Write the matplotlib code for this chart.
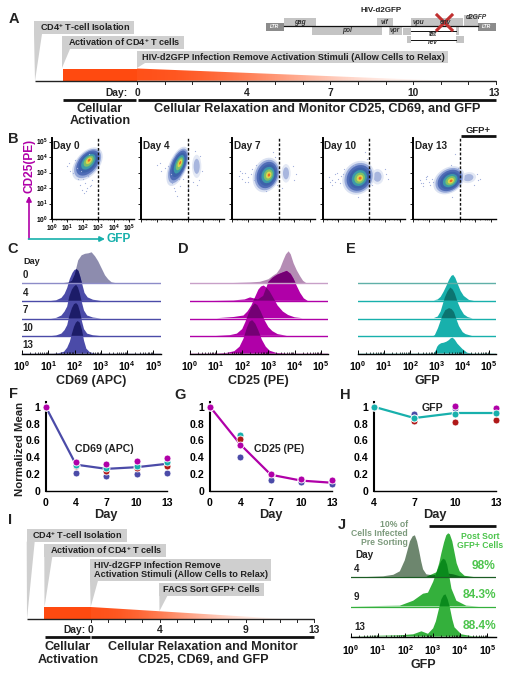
import numpy as np
import matplotlib
matplotlib.use("Agg")
import matplotlib.pyplot as plt
from matplotlib.colors import LinearSegmentedColormap
from matplotlib.patches import Ellipse, Polygon, Rectangle

plt.rcParams["font.family"] = ["Liberation Sans", "DejaVu Sans"]
plt.rcParams["font.weight"] = "bold"
plt.rcParams["axes.labelweight"] = "bold"
plt.rcParams["mathtext.fontset"] = "custom"
plt.rcParams["mathtext.bf"] = "Liberation Sans:bold"
plt.rcParams["mathtext.rm"] = "Liberation Sans:bold"
plt.rcParams["mathtext.default"] = "bf"
plt.rcParams["text.color"] = "#222222"
plt.rcParams["axes.labelcolor"] = "#222222"

W, H = 512, 674

# line plots (F, G, H)
days = ["0", "4", "7", "10", "13"]
days_h = ["4", "7", "10", "13"]
f_line = [1, 0.31, 0.26, 0.28, 0.32]
f_blue = [1, 0.215, 0.18, 0.195, 0.21]
f_red = [1, 0.30, 0.24, 0.265, 0.30]
f_teal = [1, 0.31, 0.27, 0.30, 0.345]
f_mag = [1, 0.345, 0.32, 0.355, 0.395]
g_line = [1, 0.55, 0.19, 0.12, 0.095]
g_blue = [1, 0.40, 0.125, 0.10, 0.085]
g_red = [1, 0.62, 0.19, 0.13, 0.10]
g_teal = [1, 0.665, 0.19, 0.13, 0.10]
g_mag = [1, 0.55, 0.20, 0.145, 0.125]
h_line = [1, 0.865, 0.925, 0.925]
h_blue = [1, 0.91, 0.98, 0.94]
h_red = [1, 0.825, 0.815, 0.845]
h_teal = [1, 0.865, 0.915, 0.925]
h_mag = [1, 0.865, 1.01, 0.98]

# histograms, x = log10 intensity, y = height
c0_x = [1.5, 1.78, 1.9, 2.01, 2.14, 2.27, 2.4, 2.53, 2.65, 2.78, 2.9, 3.03, 3.16, 3.28, 3.41, 3.6]
c0_y = [0, 1, 2.5, 9, 23, 28, 29.5, 30, 31, 27, 22, 15, 8, 4, 1, 0]
c4_x = [1.1, 1.3, 1.5, 1.62, 1.72, 1.82, 1.92, 2.0, 2.08, 2.15, 2.22, 2.3, 2.38, 2.5, 2.7, 3.0]
c4_y = [0, 0.6, 3, 7, 13, 22, 28, 31, 31.7, 30, 24, 16, 8, 3.5, 1.2, 0]
c7_x = [1.1, 1.3, 1.5, 1.62, 1.72, 1.8, 1.9, 1.98, 2.06, 2.13, 2.2, 2.28, 2.36, 2.48, 2.7, 3.0]
c7_y = [0, 0.6, 3, 7, 12, 22, 29, 32, 33.7, 31, 25, 16, 8, 3, 1, 0]
c10_x = [1.1, 1.3, 1.5, 1.62, 1.72, 1.8, 1.9, 1.98, 2.06, 2.13, 2.2, 2.28, 2.36, 2.48, 2.7, 3.0]
c10_y = [0, 0.6, 2.5, 6, 11, 20, 28, 32, 33, 31, 25, 15, 7, 2.5, 0.8, 0]
c13_x = [1.2, 1.4, 1.6, 1.72, 1.82, 1.9, 1.98, 2.05, 2.12, 2.2, 2.28, 2.36, 2.45, 2.58, 2.8]
c13_y = [0, 0.5, 2, 6, 12, 20, 27, 31, 32.7, 31, 24, 13, 5, 1.5, 0]

d0_x = [1.0, 1.67, 2.3, 2.68, 3.0, 3.2, 3.32, 3.45, 3.57, 3.67, 3.77, 3.85, 3.96, 4.08, 4.21, 4.32, 4.45]
d0_y = [0, 0.3, 0.8, 1.5, 4, 8, 10, 15, 23, 29, 32, 29, 20, 13, 7, 2.5, 0]
d4_x = [0.9, 1.67, 2.1, 2.3, 2.6, 2.8, 2.9, 3.0, 3.15, 3.32, 3.5, 3.7, 3.85, 3.96, 4.08, 4.21, 4.35, 4.5]
d4_y = [0.2, 0.5, 1.5, 3.5, 1.5, 5, 12, 19, 23, 26, 28, 30, 27, 22, 15, 8, 2.5, 0]
d7_x = [1.03, 1.67, 2.05, 2.2, 2.35, 2.5, 2.62, 2.72, 2.82, 2.92, 3.05, 3.2, 3.35, 3.55, 3.75, 4.0, 4.3]
d7_y = [0.3, 1.5, 3, 7, 13, 22, 29, 32, 33, 31, 27, 20, 13, 7, 3.5, 1.2, 0.3]
d10_x = [1.0, 1.54, 1.8, 2.0, 2.12, 2.25, 2.38, 2.48, 2.58, 2.7, 2.85, 3.0, 3.15, 3.35, 3.7]
d10_y = [0.2, 1, 2.5, 7, 14, 23, 30, 32.7, 31, 25, 16, 9, 5, 2, 0.3]
d13_x = [1.0, 1.41, 1.7, 1.9, 2.05, 2.18, 2.28, 2.38, 2.5, 2.62, 2.75, 2.9, 3.05, 3.3, 3.7]
d13_y = [0.2, 0.8, 2.5, 7, 15, 26, 32, 33.7, 30, 23, 14, 7, 3, 0.8, 0]

e4_x = [2.9, 3.05, 3.16, 3.27, 3.38, 3.48, 3.57, 3.64, 3.72, 3.81, 3.92, 4.04, 4.24, 4.43]
e4_y = [0.4, 1.5, 4, 9, 15, 21, 25, 26, 23, 17, 10, 5, 1, 0]
e7_x = [2.9, 3.05, 3.16, 3.24, 3.32, 3.42, 3.53, 3.62, 3.70, 3.8, 3.91, 4.05, 4.19, 4.38]
e7_y = [0.4, 2, 7, 14, 21, 27, 31, 29, 25, 17, 10, 4, 1.5, 0]
e10_x = [2.88, 2.94, 3.06, 3.14, 3.22, 3.34, 3.48, 3.58, 3.67, 3.76, 3.86, 4.0, 4.11, 4.37]
e10_y = [0, 1, 8, 14, 20, 26, 28, 27, 24, 17, 10, 4, 2, 0]
e13_x = [2.9, 2.97, 3.03, 3.09, 3.18, 3.28, 3.38, 3.47, 3.55, 3.62, 3.7, 3.8, 3.98, 4.17, 4.37]
e13_y = [0.3, 3, 7, 9, 10.5, 11, 12, 13.5, 15.5, 16, 14, 10, 5, 1, 0]

j_gray_x = [0.6, 1.19, 1.56, 1.8, 1.98, 2.08, 2.17, 2.27, 2.35, 2.43, 2.51, 2.58, 2.65, 2.77, 3.0, 3.25, 3.5, 3.75, 4.0, 4.5]
j_gray_y = [0.5, 1, 2.5, 6, 17, 27, 36, 41, 42, 36, 26, 16, 8, 3, 2, 3, 4, 3, 1, 0]
j4_x = [2.77, 2.89, 3.14, 3.24, 3.32, 3.42, 3.5, 3.57, 3.63, 3.72, 3.8, 3.88, 3.99, 4.17, 4.5]
j4_y = [0.3, 2, 5, 14, 24, 35, 42, 44, 43, 36, 25, 14, 6, 1.5, 0.3]
j9_x = [0, 1.8, 2.29, 2.65, 2.83, 3.02, 3.12, 3.2, 3.3, 3.38, 3.46, 3.53, 3.62, 3.69, 3.87, 4.23, 4.7]
j9_y = [0.3, 1, 6, 13, 14, 25, 33, 38, 45, 48, 47, 42, 29, 18, 6, 1, 0.3]
j13_x = [0, 1.8, 2.29, 2.59, 2.83, 3.02, 3.12, 3.2, 3.32, 3.4, 3.47, 3.55, 3.63, 3.72, 3.8, 4.05, 4.47, 5.3]
j13_y = [1, 2, 3, 6, 3.5, 9, 16, 25, 38, 42, 43, 38, 30, 18, 10, 3, 1, 0.5]

# flow plots: centre x, centre y, length, width, angle
b_titles = ["Day 0", "Day 4", "Day 7", "Day 10", "Day 13"]
b_blobs = [(2.3, 3.55, 2.5, 1.5, 50), (2.35, 3.4, 2.7, 1.15, 68), (2.2, 2.84, 2.3, 1.7, 70),
           (2.3, 2.66, 2.3, 1.95, 55), (2.3, 2.5, 2.2, 1.6, 35)]
b_cores = [(2.42, 3.82), (2.52, 3.65), (2.38, 2.84), (2.42, 2.63), (2.45, 2.46)]
b_gfp = [None, (3.57, 3.4, 1.5, 0.6, 90), (3.46, 2.95, 1.2, 0.6, 90),
         (3.53, 2.73, 1.0, 0.8, 90), (3.55, 2.67, 1.0, 0.7, 10)]
b_xs = [[1.0, 1.2, 1.5, 1.8, 2.0, 2.2, 2.5, 2.1, 1.9, 2.6, 1.4, 2.3, 1.7, 2.4, 2.15, 2.35, 1.95, 2.55, 1.1, 1.6],
        [1.0, 1.3, 1.7, 2.0, 2.2, 2.5, 2.4, 1.9, 3.0, 3.3, 3.8, 3.6, 2.7, 1.5, 2.3, 2.1, 3.45, 3.7, 3.9, 1.2],
        [0.4, 0.6, 0.8, 1.0, 1.2, 1.4, 0.6, 1.0, 1.3, 2.2, 2.6, 3.9, 4.0, 3.2, 0.8, 0.5, 2.75, 2.9, 1.5, 4.1],
        [0.4, 0.6, 0.8, 1.0, 1.2, 0.6, 0.9, 1.1, 2.3, 2.7, 4.0, 4.2, 3.2, 1.4, 0.5, 0.8, 2.85, 1.3, 4.1, 2.0],
        [0.4, 0.6, 0.8, 1.0, 1.2, 0.6, 0.9, 1.1, 2.7, 3.0, 4.1, 4.3, 3.9, 2.5, 0.5, 0.8, 2.85, 1.3, 4.2, 2.4]]
b_ys = [[3.4, 3.1, 3.8, 2.2, 2.6, 1.8, 2.1, 1.7, 3.1, 2.5, 3.0, 2.0, 2.6, 4.2, 2.3, 2.8, 1.9, 2.2, 3.6, 3.3],
        [3.5, 3.1, 3.4, 2.3, 1.8, 2.1, 2.6, 2.9, 2.0, 2.4, 4.1, 2.2, 2.6, 3.3, 1.5, 2.0, 4.4, 2.5, 3.1, 3.6],
        [2.8, 2.6, 3.0, 2.7, 2.9, 2.5, 3.0, 2.4, 3.2, 1.8, 4.3, 3.4, 2.5, 2.0, 2.4, 3.1, 4.0, 2.2, 3.5, 2.9],
        [2.7, 2.5, 2.9, 2.6, 2.8, 2.2, 3.0, 2.3, 1.4, 4.3, 3.2, 2.6, 2.2, 3.2, 2.4, 2.4, 3.9, 2.9, 2.9, 3.5],
        [2.5, 2.3, 2.7, 2.4, 2.6, 2.1, 2.8, 2.2, 4.2, 3.9, 2.9, 2.6, 2.2, 1.4, 2.3, 2.6, 3.3, 2.4, 2.5, 3.5]]
density_fracs = [1.0, 0.88, 0.76, 0.62, 0.47, 0.33, 0.2, 0.09]
density_colors = ["#dbe2f2", "#94a7d8", "#4f6cb6", "#3c62aa", "#3c9aa8", "#7cc06a", "#e0d44c", "#ea6a28"]

BLUE = "#4b4ba8"
MAG = "#b000a8"
TEAL = "#18b0ac"
RED = "#b01818"
ORANGE = "#ff4a10"
GREY = "#cfcfcf"

fig = plt.figure(figsize=(W / 100, H / 100), dpi=100)

# overlay in pixels for the schematics and loose labels
ov = fig.add_axes([0, 0, 1, 1], zorder=5)
ov.set_xlim(0, W)
ov.set_ylim(H, 0)
ov.axis("off")


def px_axes(left, top, right, bottom):
    ax = fig.add_axes([left / W, 1 - bottom / H, (right - left) / W, (bottom - top) / H])
    ax.patch.set_alpha(0)
    return ax


def txt(x, y, s, size=7, ha="center", color="#222222", **kw):
    ov.text(x, y, s, fontsize=size, ha=ha, va="center", color=color, **kw)


def callout(box, tip_x, tip_y):
    x0, y0, x1, y1 = box
    ov.add_patch(Rectangle((x0, y0), x1 - x0, y1 - y0, fc=GREY, ec="none"))
    ov.add_patch(Polygon([(x0, y1), (x0 + 8, y1), (tip_x, tip_y)], fc=GREY, ec="none"))


def timeline(x0, x_start, x_zero, x_end, x_fade, y, y_top, n_ticks):
    grad = LinearSegmentedColormap.from_list("o", [ORANGE, "#ffffff"])
    im = ov.imshow([[0, 1]], extent=(x_zero, x_fade, y, y_top), cmap=grad, aspect="auto",
                   interpolation="bicubic", zorder=2)
    tri = Polygon([(x_zero, y_top), (x_fade, y), (x_zero, y)], transform=ov.transData, fc="none", ec="none")
    ov.add_patch(tri)
    im.set_clip_path(tri)
    ov.set_xlim(0, W)
    ov.set_ylim(H, 0)
    ov.add_patch(Rectangle((x_start, y_top), x_zero - x_start, y - y_top, fc=ORANGE, ec="none", zorder=2))
    ov.plot([x0, x_end], [y, y], color="#222222", lw=1.0, zorder=3, solid_capstyle="butt")
    for t in np.linspace(x_zero, x_end, n_ticks + 1):
        ov.plot([t, t], [y, y + 3], color="#222222", lw=0.7, zorder=3)


def thick(x0, x1, y, lw=2.0):
    ov.plot([x0, x1], [y, y], color="#111111", lw=lw, solid_capstyle="butt")


# A
callout((34, 21, 134, 34), 35, 81)
callout((62, 36, 184, 49), 62, 68)
callout((137, 51, 448, 63), 137, 68)
timeline(35, 63, 137, 496, 445, 80.7, 68.5, 13)
txt(40, 27.5, "CD4$^{+}$ T-cell Isolation", 6.6, "left")
txt(68, 42.5, "Activation of CD4$^{+}$ T cells", 6.6, "left")
txt(142, 57, "HIV-d2GFP Infection Remove Activation Stimuli (Allow Cells to Relax)", 6.6, "left")
txt(116.5, 92.5, "Day:", 7.4)
for lab, xp in zip(["0", "4", "7", "10", "13"], [137, 247, 330, 413, 494]):
    txt(xp, 92.5, lab, 7.4)
thick(63, 136, 99.7)
thick(138, 496, 99.7)
txt(100, 115, "Cellular\nActivation", 9.1, linespacing=1.0)
txt(317, 109.5, "Cellular Relaxation and Monitor CD25, CD69, and GFP", 9.2)

# HIV genome
txt(381, 11, "HIV-d2GFP", 5.8)
for x0, y0, x1, y1 in [(284, 18, 316, 26), (312, 27, 382, 35), (377, 18, 393, 26), (389, 27, 402, 35),
                       (411, 18, 463, 26), (403, 28, 411, 35), (456, 27, 459, 35), (407, 36, 411, 43),
                       (456, 36, 464, 43), (464, 15, 478, 26)]:
    ov.add_patch(Rectangle((x0, y0), x1 - x0, y1 - y0, fc="#c4c4c4", ec="none"))
for x0 in [266, 478]:
    ov.add_patch(Rectangle((x0, 23), 18, 8, fc="#8c8c8c", ec="none"))
    txt(x0 + 9, 27, "LTR", 3.6, color="white", style="italic")
ov.plot([284, 478], [26.3, 26.3], color="#111111", lw=0.9)
ov.plot([411, 456], [30.7, 30.7], color="#111111", lw=0.7)
ov.plot([411, 456], [39.5, 39.5], color="#111111", lw=0.7)
for xp, yp, s in [(300, 22, "gag"), (347, 31, "pol"), (385, 22, "vif"), (395, 31, "vpr"), (418, 22, "vpu"),
                  (445, 22, "env"), (476, 17.5, "d2GFP"), (433, 35, "tat"), (433, 43, "rev")]:
    txt(xp, yp, s, 4.8, style="italic", color="#333333")
ov.plot([437, 452], [15, 30], color="#c03030", lw=2.2)
ov.plot([452, 437], [15, 30], color="#c03030", lw=2.2)

# B
b_lefts = [51.7, 141.3, 232.3, 322.7, 413.3]
for i, left in enumerate(b_lefts):
    ax = px_axes(left, 138, left + 82.7, 219)
    ax.set_xlim(0, 5.33)
    ax.set_ylim(0, 5.23)
    for sp in ["top", "right"]:
        ax.spines[sp].set_visible(False)
    ax.spines["left"].set_linewidth(1.4)
    ax.spines["bottom"].set_linewidth(1.0)
    ax.set_xticks(range(6))
    ax.set_yticks(range(6))
    ax.set_xticks([d + m for d in range(5) for m in np.log10([2, 4, 6, 8])], minor=True)
    ax.set_yticks([d + m for d in range(5) for m in np.log10([2, 4, 6, 8])], minor=True)
    ax.tick_params(which="major", length=2, width=0.6, pad=1, labelsize=4.8, direction="out")
    ax.tick_params(which="minor", length=1, width=0.4, direction="out")
    if i == 0:
        ax.set_xticklabels([f"$10^{{{d}}}$" for d in range(6)])
        ax.set_yticklabels([f"$10^{{{d}}}$" for d in range(6)])
    else:
        ax.set_xticklabels([])
        ax.set_yticklabels([])
    ax.plot(b_xs[i], b_ys[i], ls="none", marker="s", ms=0.8, mew=0, color="#a4b2dc")
    if b_gfp[i] is not None:
        cx, cy, ln, wd, ang = b_gfp[i]
        ax.add_patch(Ellipse((cx, cy), ln, wd, angle=ang, fc="#e4e9f5", ec="none"))
        ax.add_patch(Ellipse((cx, cy), ln * 0.65, wd * 0.65, angle=ang, fc="#a8b6de", ec="none"))
    cx, cy, ln, wd, ang = b_blobs[i]
    core_x, core_y = b_cores[i]
    for fr, col in zip(density_fracs, density_colors):
        # layers tighten towards the dense core, which sits off-centre
        ex = core_x + (cx - core_x) * fr
        ey = core_y + (cy - core_y) * fr
        ax.add_patch(Ellipse((ex, ey), ln * fr, wd * fr, angle=ang, fc=col, ec="none"))
    ax.axvline(3, color="#111111", lw=1.0, ls=(0, (2, 1.3)))
    ax.text(0.1, 4.7, b_titles[i], fontsize=7.2, va="center")
txt(29, 166, "CD25(PE)", 8.6, rotation=90, color=MAG)
txt(119, 239.5, "GFP", 8.6, color=TEAL)
ov.annotate("", xy=(29, 196), xytext=(29, 239), arrowprops=dict(arrowstyle="-|>,head_width=0.15,head_length=0.3", color=MAG, lw=1.2, shrinkA=0, shrinkB=0))
ov.annotate("", xy=(105, 239), xytext=(28.5, 239), arrowprops=dict(arrowstyle="-|>,head_width=0.15,head_length=0.3", color=TEAL, lw=1.2, shrinkA=0, shrinkB=0))
txt(478, 130.5, "GFP+", 6.8)
thick(461, 496, 135.7, 2.0)


# ridgeline histograms
def ridge(ax, curves, bases, colors, dark, line_colors):
    polys = []
    for (x, y), b, col in zip(curves, bases, colors):
        p = ax.fill(x, np.array(y) + b, color=col, lw=0)[0]
        polys.append(p)
    for i in range(1, len(curves)):
        x, y = curves[i]
        top = ax.fill(x, np.array(y) + bases[i], color=dark, lw=0)[0]
        top.set_clip_path(polys[i - 1])
    for b, lc in zip(bases, line_colors):
        ax.axhline(b, color=lc, lw=1.0)


def hist_axes(left, right, bottom, label, top=250):
    ax = px_axes(left, top, right, bottom)
    ax.set_xlim(0, 5.27)
    ax.set_ylim(0, bottom - top)
    for sp in ["top", "right", "left"]:
        ax.spines[sp].set_visible(False)
    ax.spines["bottom"].set_linewidth(1.0)
    ax.set_yticks([])
    ax.set_xticks(range(6))
    ax.set_xticklabels([f"$10^{{{d}}}$" for d in range(6)])
    ax.set_xticks([d + m for d in range(5) for m in np.log10(range(2, 10))], minor=True)
    ax.tick_params(which="major", direction="in", length=3.2, width=0.7, labelsize=7.4, pad=4)
    ax.tick_params(which="minor", direction="in", length=1.8, width=0.5)
    ax.set_xlabel(label, fontsize=9.0, labelpad=1.5)
    return ax


bases = [70.4, 52.8, 35.2, 17.6, 0]
ax_c = hist_axes(22, 160.5, 353.7, "CD69 (APC)")
ridge(ax_c, [(c0_x, c0_y), (c4_x, c4_y), (c7_x, c7_y), (c10_x, c10_y), (c13_x, c13_y)], bases,
      ["#8d8cae", BLUE, BLUE, BLUE, BLUE], "#1c1c68", ["#8d8cc8", BLUE, BLUE, BLUE, BLUE])
ax_d = hist_axes(189.7, 328, 353.7, "CD25 (PE)")
ridge(ax_d, [(d0_x, d0_y), (d4_x, d4_y), (d7_x, d7_y), (d10_x, d10_y), (d13_x, d13_y)], bases,
      ["#b48cb4", MAG, MAG, MAG, MAG], "#740074", ["#c8a0c8", MAG, MAG, MAG, MAG])
ax_e = hist_axes(357.7, 496, 353.7, "GFP")
ridge(ax_e, [(e4_x, e4_y), (e7_x, e7_y), (e10_x, e10_y), (e13_x, e13_y)], bases[1:],
      [TEAL, TEAL, TEAL, TEAL], "#0c7470", [TEAL, TEAL, TEAL, TEAL])
ax_e.axhline(bases[0], color="#60b0a8", lw=1.0)
txt(32, 262, "Day", 6.6)
for yp, s in zip([275, 293, 310, 328, 345], ["0", "4", "7", "10", "13"]):
    txt(22.5, yp, s, 7, "left")


# line plots
def line_panel(left, right, labels, line, line_col, series):
    ax = px_axes(left, 402, right, 490.7)
    xs = np.arange(len(labels))
    ax.plot(xs, line, color=line_col, lw=1.6, zorder=2, clip_on=False)
    for vals, col in series:
        ax.plot(xs, vals, ls="none", marker="o", ms=5, mfc=col, mec="white", mew=0.6, zorder=3, clip_on=False)
    ax.set_xlim(0, len(labels) - 1)
    ax.set_ylim(0, 1.056)
    for sp in ["top", "right"]:
        ax.spines[sp].set_visible(False)
    ax.spines["left"].set_linewidth(1.5)
    ax.spines["bottom"].set_linewidth(1.0)
    ax.set_xticks(xs)
    ax.set_xticklabels(labels)
    ax.set_yticks([0, 0.2, 0.4, 0.6, 0.8, 1])
    ax.set_yticklabels(["0", "0.2", "0.4", "0.6", "0.8", "1"])
    ax.tick_params(axis="x", length=0, labelsize=7.6, pad=5)
    ax.tick_params(axis="y", length=0, labelsize=7.6, pad=4)
    ax.set_xlabel("Day", fontsize=9.2, labelpad=1)
    return ax


line_panel(45.7, 167, days, f_line, BLUE, [(f_blue, BLUE), (f_red, RED), (f_teal, TEAL), (f_mag, MAG)])
line_panel(210, 331.7, days, g_line, MAG, [(g_teal, TEAL), (g_red, RED), (g_blue, BLUE), (g_mag, MAG)])
line_panel(373.7, 495.7, days_h, h_line, TEAL, [(h_blue, BLUE), (h_red, RED), (h_mag, MAG), (h_teal, TEAL)])
txt(20, 449, "Normalized Mean", 8.2, rotation=90)
txt(104, 449.5, "CD69 (APC)", 7.6)
txt(279, 449.5, "CD25 (PE)", 7.6)
txt(432, 408, "GFP", 7.6)

# I
callout((26.7, 529, 127, 541.7), 27, 619)
callout((44.3, 544, 166, 556.7), 44.5, 607)
callout((90, 559.3, 270.7, 580.7), 90.7, 607)
callout((159.3, 583.3, 264, 596), 159.5, 611)
timeline(26.7, 44.3, 90.7, 314.3, 290, 619.3, 607, 13)
txt(32, 535.5, "CD4$^{+}$ T-cell Isolation", 6.6, "left")
txt(49.5, 550.5, "Activation of CD4$^{+}$ T cells", 6.6, "left")
txt(94, 570, "HIV-d2GFP Infection Remove\nActivation Stimuli (Allow Cells to Relax)", 6.6, "left", linespacing=1.05)
txt(163, 589.5, "FACS Sort GFP+ Cells", 6.6, "left")
txt(74, 630, "Day:", 7.4)
for lab, xp in zip(["0", "4", "9", "13"], [90.7, 159.5, 245.5, 314]):
    txt(xp, 630, lab, 7.4)
thick(44.5, 89.5, 637.3)
thick(91, 314, 637.3)
txt(68, 653.5, "Cellular\nActivation", 9.1, linespacing=1.05)
txt(203, 653.5, "Cellular Relaxation and Monitor\nCD25, CD69, and GFP", 9.1, linespacing=1.05)

# J
ax_j = hist_axes(350.7, 496, 637.3, "GFP", top=527)
ax_j.set_xlim(0, 5.32)
GREEN = "#34b03c"
gray_p = ax_j.fill(j_gray_x, np.array(j_gray_y) + 60, color="#6d866e", lw=0)[0]
j4_p = ax_j.fill(j4_x, np.array(j4_y) + 60, color=GREEN, lw=0)[0]
over = ax_j.fill(j_gray_x, np.array(j_gray_y) + 60, color="#0e6e1c", lw=0)[0]
over.set_clip_path(j4_p)
j9_p = ax_j.fill(j9_x, np.array(j9_y) + 30.6, color=GREEN, lw=0)[0]
over = ax_j.fill(j9_x, np.array(j9_y) + 30.6, color="#0a8a1c", lw=0)[0]
over.set_clip_path(j4_p)
j13_p = ax_j.fill(j13_x, np.array(j13_y), color=GREEN, lw=0)[0]
over = ax_j.fill(j13_x, np.array(j13_y), color="#0a8a1c", lw=0)[0]
over.set_clip_path(j9_p)
ax_j.axhline(60, color="#1c5c24", lw=0.9)
ax_j.axhline(30.6, color=GREEN, lw=0.9)
thick(429, 496, 525.5, 2.0)
txt(408, 533.5, "10% of\nCells Infected\nPre Sorting", 6.2, "right", color="#7c9a7c", linespacing=1.05)
txt(480, 541, "Post Sort\nGFP+ Cells", 6.2, color="#4cc44c", linespacing=1.05)
txt(364, 555, "Day", 7.2)
for xp, yp, s in [(354, 569, "4"), (354, 597, "9"), (354, 627, "13")]:
    txt(xp, yp, s, 7, "left")
for yp, s in zip([566, 595.5, 626], ["98%", "84.3%", "88.4%"]):
    txt(496, yp, s, 8.6, "right", color="#4cc44c")

# panel letters
for xp, yp, s in [(14, 19, "A"), (13, 139, "B"), (13, 249, "C"), (183, 249, "D"), (351, 249, "E"),
                  (13, 394, "F"), (180, 395, "G"), (345, 395, "H"), (10, 520, "I"), (342, 525, "J")]:
    txt(xp, yp, s, 10.5)

fig.savefig("out.png", dpi=100)
